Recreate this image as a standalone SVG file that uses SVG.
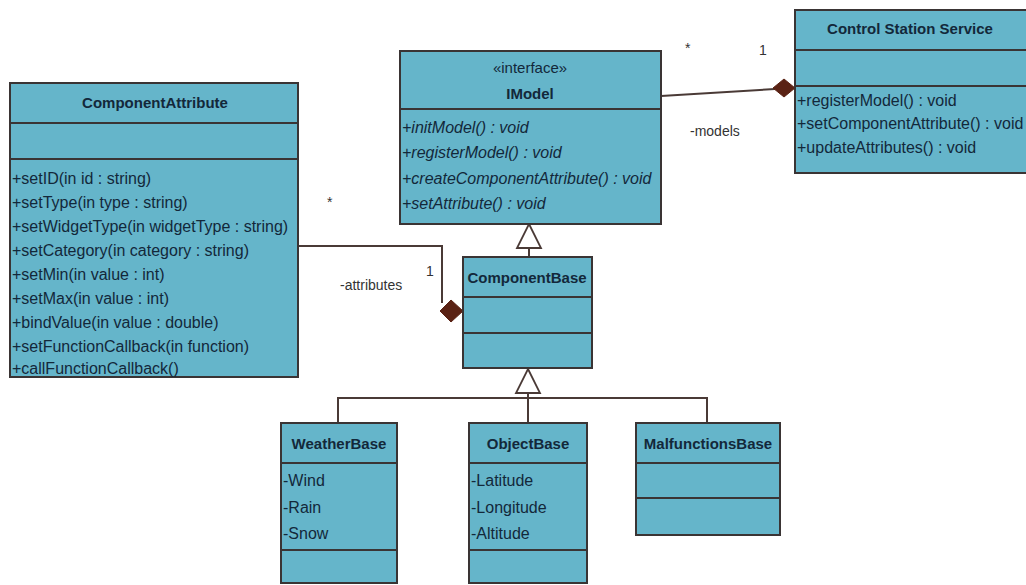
<svg xmlns="http://www.w3.org/2000/svg" width="1026" height="585" viewBox="0 0 1026 585">
  <style>
    .box { fill: #65b5ca; stroke: #3a3434; stroke-width: 2; }
    .sep { stroke: #3a3434; stroke-width: 2; fill: none; }
    .title { font-family: "Liberation Sans", Arial, sans-serif; font-size: 15px; font-weight: bold; fill: #13283a; text-anchor: middle; }
    .stereo { font-family: "Liberation Sans", Arial, sans-serif; font-size: 15px; fill: #13283a; text-anchor: middle; }
    .item { font-family: "Liberation Sans", Arial, sans-serif; font-size: 16px; fill: #13283a; }
    .ital { font-style: italic; }
    .lbl { font-family: "Liberation Sans", Arial, sans-serif; font-size: 14px; fill: #333333; }
    .edge { stroke: #4a3a36; stroke-width: 2; fill: none; }
    .diamond { fill: #5a2214; stroke: #5a2214; stroke-width: 1; }
    .tri { fill: #ffffff; stroke: #4a3a36; stroke-width: 1.8; }
  </style>
  <rect width="1026" height="585" fill="#ffffff"/>

  <!-- connectors -->
  <g id="connectors">
    <!-- IModel * — 1 Control Station Service (composition) -->
    <path class="edge" d="M661 96 L775 89"/>
    <polygon class="diamond" points="773,88 784,79 795,88 784,97"/>
    <text class="lbl" x="685" y="53">*</text>
    <text class="lbl" x="759" y="55">1</text>
    <text class="lbl" x="690" y="136">-models</text>

    <!-- ComponentAttribute * — 1 ComponentBase (composition) -->
    <path class="edge" d="M298 246 L442 246 L442 303"/>
    <polygon class="diamond" points="440,311 451,300 463,311 451,322"/>
    <text class="lbl" x="327" y="207">*</text>
    <text class="lbl" x="426" y="276">1</text>
    <text class="lbl" x="340" y="290">-attributes</text>

    <!-- ComponentBase realizes IModel -->
    <path class="edge" d="M529 248 L529 257"/>
    <polygon class="tri" points="529,224 541,248 517,248"/>

    <!-- subclasses generalize ComponentBase -->
    <path class="edge" d="M528 393 L528 423 M338 423 L338 398 L707 398 L707 423"/>
    <polygon class="tri" points="528,369 540,393 516,393"/>
  </g>

  <!-- ComponentAttribute -->
  <g id="ComponentAttribute">
    <rect class="box" x="10" y="83" width="288" height="294"/>
    <line class="sep" x1="10" y1="123" x2="298" y2="123"/>
    <line class="sep" x1="10" y1="159" x2="298" y2="159"/>
    <text class="title" x="155" y="108">ComponentAttribute</text>
    <text class="item" x="12" y="184">+setID(in id : string)</text>
    <text class="item" x="12" y="208">+setType(in type : string)</text>
    <text class="item" x="12" y="232">+setWidgetType(in widgetType : string)</text>
    <text class="item" x="12" y="256">+setCategory(in category : string)</text>
    <text class="item" x="12" y="280">+setMin(in value : int)</text>
    <text class="item" x="12" y="304">+setMax(in value : int)</text>
    <text class="item" x="12" y="328">+bindValue(in value : double)</text>
    <text class="item" x="12" y="352">+setFunctionCallback(in function)</text>
    <text class="item" x="12" y="374">+callFunctionCallback()</text>
  </g>

  <!-- IModel interface -->
  <g id="IModel">
    <rect class="box" x="400" y="51" width="261" height="173"/>
    <line class="sep" x1="400" y1="109" x2="661" y2="109"/>
    <text class="stereo" x="530" y="73">«interface»</text>
    <text class="title" x="530" y="99">IModel</text>
    <text class="item ital" x="402" y="133">+initModel() : void</text>
    <text class="item ital" x="402" y="158">+registerModel() : void</text>
    <text class="item ital" x="402" y="184">+createComponentAttribute() : void</text>
    <text class="item ital" x="402" y="209">+setAttribute() : void</text>
  </g>

  <!-- Control Station Service -->
  <g id="ControlStationService">
    <rect class="box" x="795" y="10" width="240" height="163"/>
    <line class="sep" x1="795" y1="50" x2="1035" y2="50"/>
    <line class="sep" x1="795" y1="86" x2="1035" y2="86"/>
    <text class="title" x="910" y="34">Control Station Service</text>
    <text class="item" x="797" y="106">+registerModel() : void</text>
    <text class="item" x="797" y="129">+setComponentAttribute() : void</text>
    <text class="item" x="797" y="153">+updateAttributes() : void</text>
  </g>

  <!-- ComponentBase -->
  <g id="ComponentBase">
    <rect class="box" x="463" y="257" width="129" height="111"/>
    <line class="sep" x1="463" y1="297" x2="592" y2="297"/>
    <line class="sep" x1="463" y1="333" x2="592" y2="333"/>
    <text class="title" x="527" y="283">ComponentBase</text>
  </g>

  <!-- WeatherBase -->
  <g id="WeatherBase">
    <rect class="box" x="281" y="423" width="116" height="160"/>
    <line class="sep" x1="281" y1="463" x2="397" y2="463"/>
    <line class="sep" x1="281" y1="550" x2="397" y2="550"/>
    <text class="title" x="339" y="449">WeatherBase</text>
    <text class="item" x="283" y="486">-Wind</text>
    <text class="item" x="283" y="513">-Rain</text>
    <text class="item" x="283" y="539">-Snow</text>
  </g>

  <!-- ObjectBase -->
  <g id="ObjectBase">
    <rect class="box" x="469" y="423" width="118" height="160"/>
    <line class="sep" x1="469" y1="463" x2="587" y2="463"/>
    <line class="sep" x1="469" y1="550" x2="587" y2="550"/>
    <text class="title" x="528" y="449">ObjectBase</text>
    <text class="item" x="471" y="486">-Latitude</text>
    <text class="item" x="471" y="513">-Longitude</text>
    <text class="item" x="471" y="539">-Altitude</text>
  </g>

  <!-- MalfunctionsBase -->
  <g id="MalfunctionsBase">
    <rect class="box" x="636" y="423" width="144" height="112"/>
    <line class="sep" x1="636" y1="463" x2="780" y2="463"/>
    <line class="sep" x1="636" y1="498" x2="780" y2="498"/>
    <text class="title" x="708" y="449">MalfunctionsBase</text>
  </g>
</svg>
